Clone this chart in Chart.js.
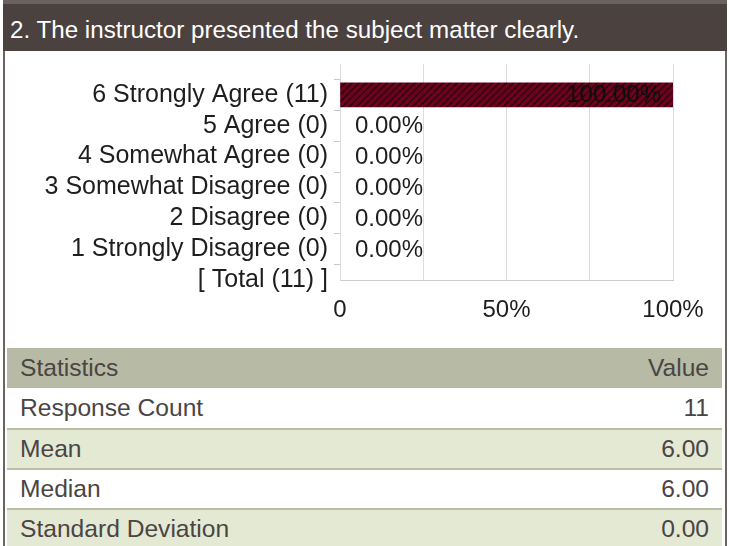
<!DOCTYPE html>
<html>
<head>
<meta charset="utf-8">
<script src="https://cdn.jsdelivr.net/npm/chart.js@4"></script>
<style>
  html, body { margin: 0; padding: 0; background: #ffffff; }
  body { width: 729px; height: 546px; position: relative; overflow: hidden; font-family: "Liberation Sans", Arial, sans-serif; }
  #frame { position: absolute; left: 3px; top: 0; width: 720px; height: 542px; border-left: 2px solid #6b6462; border-right: 2px solid #6b6462; border-bottom: 2px solid #6b6462; border-top: 4px solid #6a6260; }
  #title { position: absolute; left: 3px; top: 4px; width: 724px; height: 47px; background: #4b4240; color: #ffffff; font-size: 24.2px; line-height: 51px; box-sizing: border-box; padding-left: 7px; white-space: nowrap; }
  #chartWrap { position: absolute; left: 6px; top: 51px; width: 718px; height: 295px; }
  #stats { position: absolute; left: 7px; top: 348px; width: 715px; }
  .row { height: 40px; line-height: 40px; font-size: 24.6px; color: #4a4544; padding: 0 13px; display: flex; justify-content: space-between; box-sizing: border-box; }
  .row.head { background: #b7baa4; }
  .row.odd { background: #ffffff; }
  .row.even { background: #e4e9d3; }
  .row.sep { border-top: 2px solid #b9c0a6; line-height: 38px; }
</style>
</head>
<body>
<div id="frame"></div>
<div id="title">2. The instructor presented the subject matter clearly.</div>
<div id="chartWrap"><canvas id="c" width="718" height="295"></canvas></div>
<div id="stats"></div>
<script>
// ---- data ----
const categories = ['', '6 Strongly Agree (11)', '5 Agree (0)', '4 Somewhat Agree (0)', '3 Somewhat Disagree (0)', '2 Disagree (0)', '1 Strongly Disagree (0)', '[ Total (11) ]'];
const percents = [null, 100, 0, 0, 0, 0, 0, null];
const xTickLabels = { 0: '0', 50: '50%', 100: '100%' };
const statHeader = ['Statistics', 'Value'];
const statNames = ['Response Count', 'Mean', 'Median', 'Standard Deviation'];
const statValues = ['11', '6.00', '6.00', '0.00'];

// ---- stats table ----
const statsEl = document.getElementById('stats');
function addRow(a, b, cls) {
  const d = document.createElement('div');
  d.className = 'row ' + cls;
  const s1 = document.createElement('span'); s1.textContent = a;
  const s2 = document.createElement('span'); s2.textContent = b;
  d.appendChild(s1); d.appendChild(s2);
  statsEl.appendChild(d);
}
addRow(statHeader[0], statHeader[1], 'head');
statNames.forEach((n, i) => addRow(n, statValues[i], (i % 2 === 0 ? 'odd' : 'even') + (i > 0 ? ' sep' : '')));

// ---- pattern ----
function makePattern() {
  const p = document.createElement('canvas');
  p.width = 7; p.height = 7;
  const g = p.getContext('2d');
  g.fillStyle = '#6e021d';
  g.fillRect(0, 0, 7, 7);
  g.strokeStyle = '#2a0510';
  g.lineWidth = 1.5;
  g.beginPath();
  g.moveTo(-1, 8); g.lineTo(8, -1);
  g.moveTo(-1, 1); g.lineTo(1, -1);
  g.moveTo(6, 8); g.lineTo(8, 6);
  g.stroke();
  return document.getElementById('c').getContext('2d').createPattern(p, 'repeat');
}
const barPattern = makePattern();

const labelPlugin = {
  id: 'valLabels',
  afterDatasetsDraw(chart) {
    const ctx = chart.ctx;
    const meta = chart.getDatasetMeta(0);
    const xs = chart.scales.x;
    ctx.save();
    ctx.font = '24px "Liberation Sans", Arial, sans-serif';
    ctx.textBaseline = 'middle';
    percents.forEach((v, i) => {
      if (v === null) return;
      const el = meta.data[i];
      const txt = v.toFixed(2) + '%';
      if (v > 50) {
        ctx.fillStyle = '#0d0d0d';
        ctx.textAlign = 'right';
        ctx.fillText(txt, el.x - 12, el.y + 1);
      } else {
        ctx.fillStyle = '#1e1e1e';
        ctx.textAlign = 'left';
        ctx.fillText(txt, xs.getPixelForValue(0) + 15, el.y + 1);
      }
    });
    ctx.restore();
  }
};

new Chart(document.getElementById('c'), {
  type: 'bar',
  data: {
    labels: categories,
    datasets: [{
      data: percents,
      backgroundColor: ctx => (ctx.raw ? barPattern : 'rgba(0,0,0,0)'),
      borderWidth: 0,
      barThickness: 24
    }]
  },
  options: {
    indexAxis: 'y',
    responsive: false,
    animation: false,
    layout: { padding: { top: 13, right: 51, left: 0, bottom: 0 } },
    plugins: { legend: { display: false }, tooltip: { enabled: false } },
    scales: {
      x: {
        min: 0, max: 100,
        afterFit(s) { s.height = 66; },
        ticks: {
          stepSize: 25, autoSkip: false, maxRotation: 0, padding: 16,
          color: '#1e1e1e',
          font: { size: 24, family: '"Liberation Sans", Arial, sans-serif' },
          callback: v => (v in xTickLabels ? xTickLabels[v] : '')
        },
        grid: { color: '#dcdcdc', drawTicks: false },
        border: { color: '#cccccc' }
      },
      y: {
        offset: false,
        afterFit(s) { s.width = 334; s.paddingTop = 0; s.paddingBottom = 0; },
        ticks: {
          autoSkip: false, padding: 6,
          color: '#1e1e1e',
          font: { size: 25, family: '"Liberation Sans", Arial, sans-serif' }
        },
        grid: {
          drawOnChartArea: false, drawTicks: true, tickLength: 6,
          color: ctx => (ctx.index === 0 ? 'rgba(0,0,0,0)' : '#c8c8c8')
        },
        border: { color: '#dcdcdc' }
      }
    }
  },
  plugins: [labelPlugin]
});
</script>
</body>
</html>
